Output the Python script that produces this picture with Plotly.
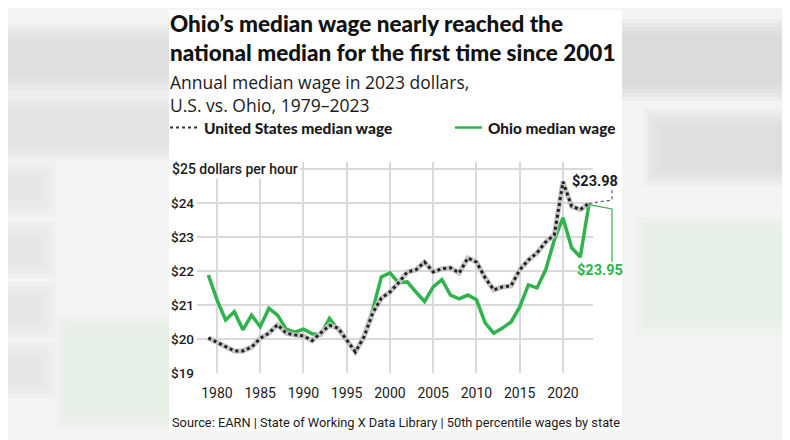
import plotly.graph_objects as go

years = list(range(1979, 2024))
us_wage = [20.03, 19.9, 19.76, 19.65, 19.65, 19.76, 20.02, 20.17, 20.42, 20.17,
           20.12, 20.09, 19.95, 20.17, 20.4, 20.32, 19.97, 19.62, 20.06, 20.76,
           21.2, 21.38, 21.65, 21.97, 22.03, 22.26, 21.97, 22.06, 22.09, 21.94,
           22.38, 22.26, 21.8, 21.44, 21.53, 21.56, 22.03, 22.32, 22.53, 22.85,
           23.06, 24.62, 23.9, 23.8, 23.98]
ohio_wage = [21.88, 21.15, 20.56, 20.8, 20.27, 20.7, 20.36, 20.9, 20.7, 20.29,
             20.2, 20.29, 20.15, 20.12, 20.6, 20.27, 19.97, 19.62, 20.12, 20.85,
             21.82, 21.94, 21.65, 21.68, 21.38, 21.1, 21.53, 21.74, 21.29, 21.18,
             21.29, 21.15, 20.47, 20.17, 20.32, 20.5, 20.94, 21.59, 21.5, 22.03,
             22.91, 23.56, 22.68, 22.41, 23.95]
x_ticks = [1980, 1985, 1990, 1995, 2000, 2005, 2010, 2015, 2020]
y_ticks = [19, 20, 21, 22, 23, 24, 25]
y_ticktext = ["$19", "$20", "$21", "$22", "$23", "$24", ""]

W, H = 790, 440
OFF = 8  # page body margin offset
# plot area in screen pixels: x 197..593, y 162..373
L = 197 - OFF
T = 162 - OFF
R = W - (593 - OFF)
B = H - (373 - OFF)
PW, PH = W - L - R, H - T - B
XR = [1977.69, 2023.47]
YR = [19.0, 25.2]

GREEN = "#2fb34b"
INK = "#1b1b1b"
FONT = "Roboto"
HEAD = "Lato"


def pxx(px):
    return (px - OFF - L) / PW


def pxy(py):
    return (H - B - (py - OFF)) / PH


def dx(v):
    return (v - XR[0]) / (XR[1] - XR[0])


def dy(v):
    return (v - YR[0]) / (YR[1] - YR[0])


fig = go.Figure()
fig.add_trace(go.Scatter(x=years, y=ohio_wage, mode="lines",
                         line=dict(color=GREEN, width=3.5), hoverinfo="skip"))
fig.add_trace(go.Scatter(x=years, y=us_wage, mode="lines",
                         line=dict(color="#c4c4c4", width=5), hoverinfo="skip"))
fig.add_trace(go.Scatter(x=years, y=us_wage, mode="lines",
                         line=dict(color="#222222", width=3, dash="dot"), hoverinfo="skip"))

shapes = []
# soft backdrop (approximation of the blurred background)
bands = [
    (0, 40, 169, 78, "#d6d6d6"), (0, 110, 169, 145, "#dadada"),
    (622, 35, 790, 85, "#d0d0d0"), (660, 125, 790, 170, "#d8d8d8"),
    (10, 178, 40, 200, "#e0e0e0"), (10, 238, 40, 262, "#e0e0e0"),
    (10, 298, 40, 322, "#e0e0e0"), (10, 358, 40, 382, "#e0e0e0"),
    (70, 330, 169, 415, "#dff1e2"), (650, 230, 790, 320, "#dff1e2"),
]
for x0, y0, x1, y1, c in bands:
    for k in range(5):
        g = 4 * (4 - k)
        shapes.append(dict(type="rect", xref="paper", yref="paper",
                           x0=pxx(x0 - g), x1=pxx(x1 + g), y0=pxy(y1 + g), y1=pxy(y0 - g),
                           fillcolor=c, opacity=0.2, line=dict(width=0), layer="below"))
shapes.append(dict(type="rect", xref="paper", yref="paper",
                   x0=pxx(169), x1=pxx(622), y0=pxy(431), y1=pxy(10),
                   fillcolor="white", line=dict(width=0), layer="below"))

# legend samples
shapes.append(dict(type="line", xref="paper", yref="paper", x0=pxx(170), x1=pxx(198),
                   y0=pxy(127.5), y1=pxy(127.5), line=dict(color="#333333", width=2, dash="dot")))
shapes.append(dict(type="line", xref="paper", yref="paper", x0=pxx(455), x1=pxx(482),
                   y0=pxy(127.5), y1=pxy(127.5), line=dict(color=GREEN, width=2.5)))

# end-label connectors
ex = dx(years[-1])
us_end = dy(us_wage[-1])
oh_end = dy(ohio_wage[-1])
shapes.append(dict(type="path", xref="paper", yref="paper",
                   path=f"M {ex},{us_end} L {pxx(612)},{pxy(200)} L {pxx(612)},{pxy(189)}",
                   line=dict(color="#555555", width=1.2, dash="dot")))
shapes.append(dict(type="path", xref="paper", yref="paper",
                   path=f"M {ex},{oh_end} L {pxx(612)},{pxy(209)} L {pxx(612)},{pxy(262)}",
                   line=dict(color=GREEN, width=1.2)))

ann = []
ann.append(dict(text="Ohio’s median wage nearly reached the<br>national median for the first time since 2001",
                xref="paper", yref="paper", x=pxx(168), y=pxy(8), xanchor="left", yanchor="top",
                align="left", showarrow=False,
                font=dict(family=HEAD, size=22.5, color="#111111", weight=900)))
ann.append(dict(text="Annual median wage in 2023 dollars,<br>U.S. vs. Ohio, 1979–2023",
                xref="paper", yref="paper", x=pxx(168), y=pxy(68), xanchor="left", yanchor="top",
                align="left", showarrow=False,
                font=dict(family="Open Sans", size=17.5, color=INK)))
ann.append(dict(text="United States median wage", xref="paper", yref="paper",
                x=pxx(202), y=pxy(127.5), xanchor="left", yanchor="middle", showarrow=False,
                font=dict(family=HEAD, size=15.5, color=INK, weight=900)))
ann.append(dict(text="Ohio median wage", xref="paper", yref="paper",
                x=pxx(486), y=pxy(127.5), xanchor="left", yanchor="middle", showarrow=False,
                font=dict(family=HEAD, size=15.3, color=INK, weight=900)))
ann.append(dict(text="$25 dollars per hour", xref="paper", yref="y",
                x=pxx(170), y=25, xanchor="left", yanchor="middle", showarrow=False,
                bgcolor="white", borderpad=1,
                font=dict(family=FONT, size=14, color=INK, weight=500)))
ann.append(dict(text=f"${us_wage[-1]:.2f}", xref="paper", yref="paper",
                x=pxx(620), y=pxy(181), xanchor="right", yanchor="middle", showarrow=False,
                font=dict(family=FONT, size=14.5, color=INK, weight=700)))
ann.append(dict(text=f"${ohio_wage[-1]:.2f}", xref="paper", yref="paper",
                x=pxx(600), y=pxy(270), xanchor="center", yanchor="middle", showarrow=False,
                font=dict(family=FONT, size=14.5, color=GREEN, weight=700)))
ann.append(dict(text="Source: EARN | State of Working X Data Library | 50th percentile wages by state",
                xref="paper", yref="paper", x=pxx(170), y=pxy(422), xanchor="left", yanchor="middle",
                showarrow=False, font=dict(family=FONT, size=12.8, color=INK)))

fig.update_layout(
    width=W, height=H,
    margin=dict(l=L, r=R, t=T, b=B, pad=0),
    paper_bgcolor="#f4f4f4", plot_bgcolor="white",
    showlegend=False,
    shapes=shapes, annotations=ann,
    xaxis=dict(range=XR, tickvals=x_ticks, showgrid=True, gridcolor="#d9d9d9", gridwidth=1.5,
               zeroline=False, showline=False, ticks="", ticklabelstandoff=10,
               tickfont=dict(family=FONT, size=14, color=INK)),
    yaxis=dict(range=YR, tickvals=y_ticks, ticktext=y_ticktext, showgrid=True,
               gridcolor="#d9d9d9", gridwidth=1.5, zeroline=False, showline=False, ticks="",
               ticklabelstandoff=2,
               tickfont=dict(family=FONT, size=13.5, color=INK, weight=500)),
)

fig.write_html("out.html")
